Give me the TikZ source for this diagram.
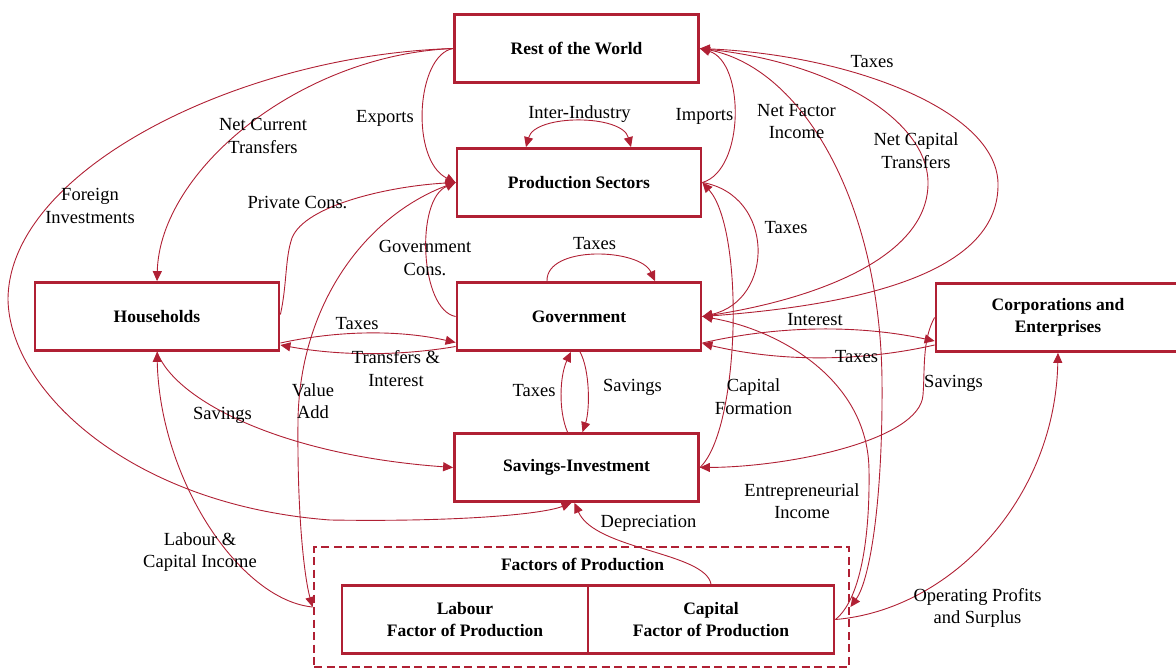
\documentclass[tikz,border=0pt]{standalone}
\usepackage{fontspec}
\setmainfont{Liberation Serif}
\usetikzlibrary{arrows.meta}
\definecolor{flowred}{RGB}{176,32,52}

\begin{document}
\begin{tikzpicture}[x=1pt,y=-1pt,>={Triangle[length=10pt,width=9pt]},
  box/.style={draw=flowred,line width=2.8pt,minimum width=244pt,minimum height=68pt,
    align=center,inner sep=0pt,font=\fontsize{17.5}{21.5}\selectfont\bfseries},
  lbl/.style={align=center,inner sep=0pt,font=\fontsize{18.5}{22.5}\selectfont},
  flow/.style={->,draw=flowred,line width=0.9pt}]
  \useasboundingbox (0,0) rectangle (1176,671);

  % accounts
  \node[box] (rw)   at (576.5,48.5)  {Rest of the World};
  \node[box] (ps)   at (579,182.5)   {Production Sectors};
  \node[box] (gov)  at (579,316.5)   {Government};
  \node[box] (hh)   at (157,316.5)   {Households};
  \node[box] (corp) at (1058,317.5)  {Corporations and\\Enterprises};
  \node[box] (si)   at (576.5,467.5) {Savings-Investment};

  % factors of production
  \node[draw=flowred,line width=2.8pt,dash pattern=on 8pt off 4.5pt,
        minimum width=535pt,minimum height=120pt] (fop) at (581.5,607) {};
  \node[lbl,font=\fontsize{17.5}{21.5}\selectfont\bfseries] (fop-t) at (582.5,564) {Factors of Production};
  \node[box,minimum width=246pt] (lab) at (465,619.5) {Labour\\Factor of Production};
  \node[box,minimum width=246pt] (cap) at (711,619.5) {Capital\\Factor of Production};

  % flows with the rest of the world
  \draw[flow] (rw.west) .. controls (300,55) and (160,170) .. (hh.north);
  \draw[flow] (rw.west) .. controls (240,55) and (8,170) .. (8,300)
    .. controls (10,390) and (130,505) .. (330,520)
    .. controls (450,522) and (540,515) .. ([xshift=-5pt]si.south);
  \draw[flow] (rw.west) .. controls (416,55) and (410,160) .. (ps.west);
  \draw[flow] (ps.east) .. controls (745,170) and (745,62) .. (rw.east);
  \draw[flow] (rw.east) .. controls (800,60) and (880,200) .. (882,380)
    .. controls (883,500) and (870,580) .. (fop.east);
  \draw[flow] (gov.east) .. controls (870,305) and (1000,270) .. (998,183)
    .. controls (996,110) and (850,55) .. (rw.east);
  \draw[flow] (rw.east) .. controls (830,60) and (930,120) .. (928,185)
    .. controls (926,260) and (810,300) .. (gov.east);

  % production sectors
  \draw[flow,<->] ([xshift=-53pt]ps.north) .. controls (535,114) and (622,114) .. ([xshift=52pt]ps.north);
  \draw[flow] ([yshift=2pt]hh.east) .. controls (287,285) and (285,258) .. (292,238)
    .. controls (305,205) and (390,186) .. (ps.west);
  \draw[flow] (gov.west) .. controls (420,310) and (415,200) .. (ps.west);
  \draw[flow] (ps.west) .. controls (370,210) and (300,300) .. (298,420)
    .. controls (297,520) and (305,580) .. (fop.west);
  \draw[flow] (ps.east) .. controls (775,195) and (775,300) .. (gov.east);
  \draw[flow] (si.east) .. controls (740,430) and (745,230) .. (ps.east);

  % government
  \draw[flow] ([xshift=-32pt]gov.north) .. controls (546,245) and (640,248) .. ([xshift=76pt]gov.north);
  \draw[flow] ([yshift=-26.5pt]hh.east) .. controls (340,330) and (400,330) .. ([yshift=-26pt]gov.west);
  \draw[flow] ([yshift=-30pt]gov.west) .. controls (400,356) and (340,356) .. ([yshift=-28.5pt]hh.east);
  \draw[flow] ([yshift=-26.5pt]gov.east) .. controls (780,325) and (860,325) .. ([yshift=-23.5pt]corp.west);
  \draw[flow] ([yshift=-27.5pt]corp.west) .. controls (860,362) and (780,362) .. ([yshift=-27pt]gov.east);
  \draw[flow] ([xshift=-9pt]si.north) .. controls (558,410) and (560,375) .. ([xshift=-8pt]gov.south);
  \draw[flow] ([xshift=1pt]gov.south) .. controls (590,370) and (590,410) .. ([xshift=6pt]si.north);

  % savings and factor incomes
  \draw[flow] (corp.west) .. controls (922,340) and (925,370) .. (923,395)
    .. controls (920,440) and (790,467) .. (si.east);
  \draw[flow] (hh.south) .. controls (175,400) and (280,455) .. (si.west);
  \draw[flow] (fop.west) .. controls (240,600) and (160,480) .. (hh.south);
  \draw[flow] (cap.north) .. controls (705,552) and (595,550) .. ([xshift=-2pt]si.south);
  \draw[flow] (cap.east) .. controls (860,600) and (870,540) .. (869,470)
    .. controls (868,380) and (780,330) .. (gov.east);
  \draw[flow] (cap.east) .. controls (950,610) and (1055,500) .. (corp.south);

  % labels
  \node[lbl] (l-nct)  at (263,136)   {Net Current\\Transfers};
  \node[lbl] (l-fi)   at (90,206)    {Foreign\\Investments};
  \node[lbl] (l-exp)  at (385,118)   {Exports};
  \node[lbl] (l-pc)   at (297.5,203) {Private Cons.};
  \node[lbl] (l-gc)   at (425,258)   {Government\\Cons.};
  \node[lbl] (l-ii)   at (579.5,114) {Inter-Industry};
  \node[lbl] (l-imp)  at (704.5,116) {Imports};
  \node[lbl] (l-nfi)  at (796.5,121.5) {Net Factor\\Income};
  \node[lbl] (l-tx1)  at (872,62)    {Taxes};
  \node[lbl] (l-nkt)  at (916,150.5) {Net Capital\\Transfers};
  \node[lbl] (l-tx2)  at (594.5,244) {Taxes};
  \node[lbl] (l-tx3)  at (786,228)   {Taxes};
  \node[lbl] (l-int)  at (815,320)   {Interest};
  \node[lbl] (l-tx4)  at (856.5,357) {Taxes};
  \node[lbl] (l-sv1)  at (953.5,383) {Savings};
  \node[lbl] (l-tx5)  at (357,324)   {Taxes};
  \node[lbl] (l-tri)  at (396,368.5) {Transfers \&\\Interest};
  \node[lbl] (l-va)   at (313,401)   {Value\\Add};
  \node[lbl] (l-sv2)  at (222.5,415) {Savings};
  \node[lbl] (l-lci)  at (200,552)   {Labour \&\\Capital Income};
  \node[lbl] (l-tx6)  at (534,391)   {Taxes};
  \node[lbl] (l-sv3)  at (632.5,387) {Savings};
  \node[lbl] (l-kf)   at (753.5,396.5) {Capital\\Formation};
  \node[lbl] (l-ent)  at (802,501)   {Entrepreneurial\\Income};
  \node[lbl] (l-dep)  at (648.5,523) {Depreciation};
  \node[lbl] (l-ops)  at (977.5,608) {Operating Profits\\and Surplus};
\end{tikzpicture}
\end{document}
